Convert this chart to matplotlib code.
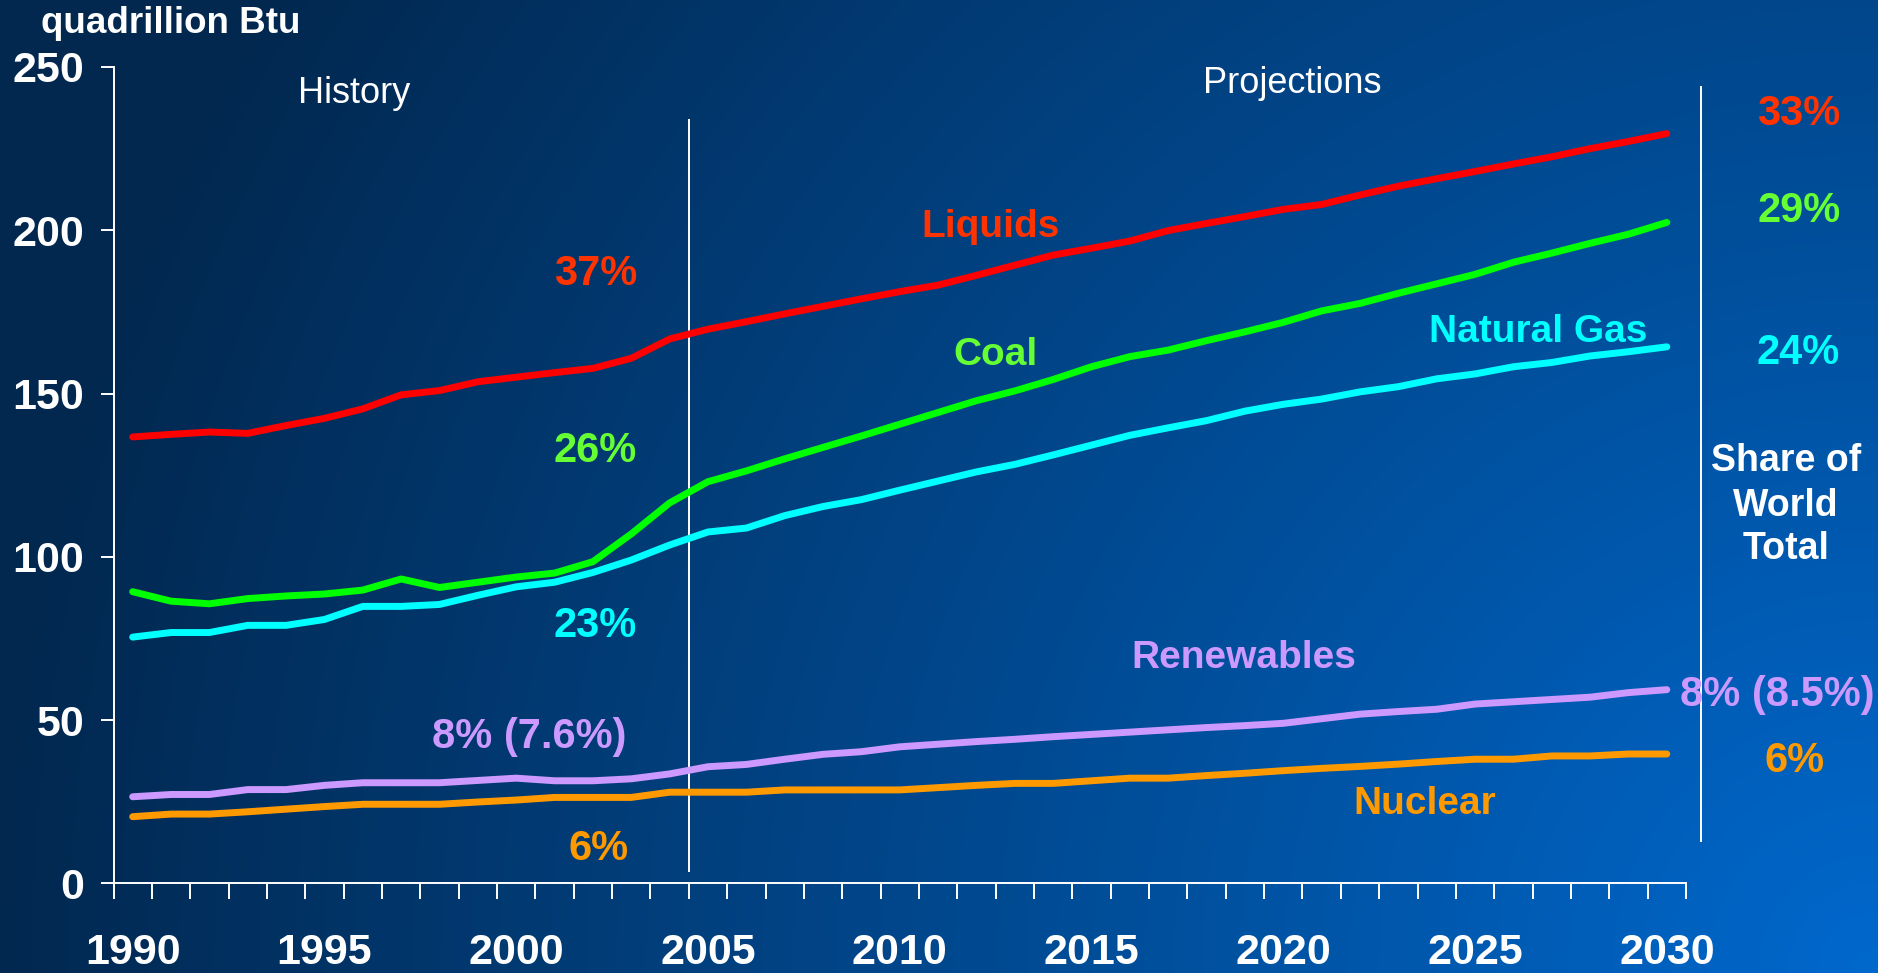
import numpy as np
import matplotlib.pyplot as plt
from matplotlib.colors import LinearSegmentedColormap

plt.rcParams['font.family'] = ['Liberation Sans', 'DejaVu Sans']
plt.rcParams['font.weight'] = 'bold'

# world energy use by fuel, quadrillion Btu
years = list(range(1990, 2031))
liquids = [136.7, 137.5, 138.2, 137.8, 140.2, 142.4, 145.3, 149.6, 150.9, 153.6,
           155.0, 156.4, 157.7, 160.8, 166.7, 169.7, 172.0, 174.4, 176.7, 179.0,
           181.2, 183.2, 186.2, 189.3, 192.4, 194.5, 196.7, 199.9, 202.1, 204.2,
           206.4, 207.9, 210.8, 213.5, 215.8, 218.0, 220.3, 222.5, 225.0, 227.2,
           229.6]
coal = [89.3, 86.4, 85.6, 87.2, 88.0, 88.6, 89.8, 93.2, 90.6, 92.2,
        93.8, 95.0, 98.5, 107.0, 116.5, 123.0, 126.3, 130.0, 133.5, 137.0,
        140.6, 144.2, 147.8, 150.8, 154.3, 158.2, 161.3, 163.3, 166.2, 168.9,
        171.8, 175.3, 177.6, 180.7, 183.6, 186.5, 190.2, 193.0, 196.0, 198.8,
        202.4]
natural_gas = [75.4, 76.8, 76.8, 79.0, 79.0, 80.8, 84.8, 84.8, 85.4, 88.2,
               90.8, 92.2, 95.2, 99.0, 103.6, 107.6, 108.8, 112.6, 115.4, 117.5,
               120.4, 123.2, 126.0, 128.3, 131.2, 134.2, 137.2, 139.5, 141.7, 144.6,
               146.7, 148.3, 150.5, 152.1, 154.5, 156.0, 158.2, 159.5, 161.5, 162.8,
               164.3]
renewables = [26.5, 27.2, 27.2, 28.7, 28.7, 30.0, 30.8, 30.8, 30.8, 31.5,
              32.2, 31.4, 31.4, 32.0, 33.5, 35.7, 36.4, 38.0, 39.5, 40.3,
              41.8, 42.6, 43.4, 44.1, 44.9, 45.6, 46.3, 47.0, 47.7, 48.3,
              49.0, 50.4, 51.8, 52.6, 53.3, 54.9, 55.6, 56.3, 57.0, 58.4,
              59.3]
nuclear = [20.4, 21.2, 21.2, 21.9, 22.7, 23.5, 24.2, 24.2, 24.2, 24.9,
           25.5, 26.3, 26.3, 26.3, 27.9, 27.9, 27.9, 28.6, 28.6, 28.6,
           28.6, 29.3, 30.0, 30.6, 30.6, 31.4, 32.2, 32.2, 33.0, 33.7,
           34.5, 35.2, 35.8, 36.5, 37.3, 38.0, 38.0, 39.0, 39.0, 39.6,
           39.6]

year_labels = [1990, 1995, 2000, 2005, 2010, 2015, 2020, 2025, 2030]
y_ticks = [0, 50, 100, 150, 200, 250]
last_history_year = 2004

share_2004 = ['37%', '26%', '23%', '8% (7.6%)', '6%']
share_2030 = ['33%', '29%', '24%', '8% (8.5%)', '6%']

line_colors = ['#FF0000', '#00FF00', '#00FFFF', '#CC99FF', '#FF9900']
text_colors = ['#FF3300', '#66FF33', '#00FFFF', '#CC99FF', '#FF9900']

W, H = 1878, 973
fig = plt.figure(figsize=(W / 100, H / 100), dpi=100)

# blue slide background, brightest towards the lower right corner
bg = fig.add_axes([0, 0, 1, 1], zorder=0)
gx, gy = np.meshgrid(np.linspace(0, 1, 470), np.linspace(0, H / W, 244))
dist = np.hypot(1 - gx, gy)
shade = np.clip(1 - dist, 0, 1)
bg_cmap = LinearSegmentedColormap.from_list('slide', ['#022850', '#0068cc'])
bg.imshow(shade, cmap=bg_cmap, origin='lower', extent=[0, 1, 0, 1],
          aspect='auto', vmin=0, vmax=1, interpolation='bilinear')
bg.axis('off')

left, right, bottom, top = 113.5, 1686, 883.3, 67
ax = fig.add_axes([left / W, 1 - bottom / H, (right - left) / W, (bottom - top) / H], zorder=1)
ax.patch.set_alpha(0)

series = [liquids, coal, natural_gas, renewables, nuclear]
for values, col in zip(series, line_colors):
    ax.plot(years, values, color=col, lw=5, solid_capstyle='round',
            solid_joinstyle='round', zorder=3)

ax.set_xlim(years[0] - 0.5, years[-1] + 0.5)
ax.set_ylim(0, 250)

ax.set_xticks(year_labels)
ax.set_xticklabels([str(y) for y in year_labels])
ax.set_xticks(np.arange(years[0] - 0.5, years[-1] + 1), minor=True)
ax.set_yticks(y_ticks)
ax.tick_params(axis='x', which='major', length=0, pad=36, labelsize=31, labelcolor='white')
ax.tick_params(axis='x', which='minor', length=11.5, width=1.4, color='white', direction='out')
ax.tick_params(axis='y', length=9.5, width=1.4, color='white', direction='out',
               pad=11.5, labelsize=31, labelcolor='white')
for side in ['top', 'right']:
    ax.spines[side].set_visible(False)
for side in ['left', 'bottom']:
    ax.spines[side].set_color('white')
    ax.spines[side].set_linewidth(1.4)

# history / projections divider and the frame of the share column
ax.plot([last_history_year + 0.5] * 2, [3.7, 233.8], color='white', lw=1.4, zorder=2)
ax.plot([years[-1] + 0.9] * 2, [12.9, 243.9], color='white', lw=1.4, zorder=2,
        clip_on=False)

ax.text(1995.78, 238.9, 'History', color='white', fontsize=26, fontweight='normal',
        ha='center', va='baseline')
ax.text(2020.24, 242.0, 'Projections', color='white', fontsize=26, fontweight='normal',
        ha='center', va='baseline')
fig.text(41 / W, 1 - 33 / H, 'quadrillion Btu', color='white', fontsize=26.5,
         ha='left', va='baseline')

# series names
names = ['Liquids', 'Coal', 'Natural Gas', 'Renewables', 'Nuclear']
name_pos = [(2012.37, 198.0), (2012.5, 158.7), (2026.64, 165.8),
            (2018.98, 66.0), (2023.7, 21.2)]
for name, (x, y), col in zip(names, name_pos, text_colors):
    ax.text(x, y, name, color=col, fontsize=28, ha='center', va='baseline', zorder=4)

# shares of world total, 2004 and 2030
left_pos = [(2002.06, 183.3), (2002.06, 129.0), (2002.06, 75.4),
            (2000.33, 41.5), (2002.16, 7.2)]
for label, (x, y), col in zip(share_2004, left_pos, text_colors):
    ax.text(x, y, label, color=col, fontsize=30, ha='center', va='baseline', zorder=4)

right_pos = [(2033.45, 232.3), (2033.45, 202.5), (2033.43, 159.0),
             (2032.88, 54.3), (2033.32, 34.1)]
for label, (x, y), col in zip(share_2030, right_pos, text_colors):
    ax.text(x, y, label, color=col, fontsize=30, ha='center', va='baseline', zorder=4)

for line, y_px in zip(['Share of', 'World', 'Total'], [471, 516, 559]):
    fig.text(1786 / W, 1 - y_px / H, line, color='white', fontsize=27,
             ha='center', va='baseline')

fig.savefig('out.png', dpi=100)
